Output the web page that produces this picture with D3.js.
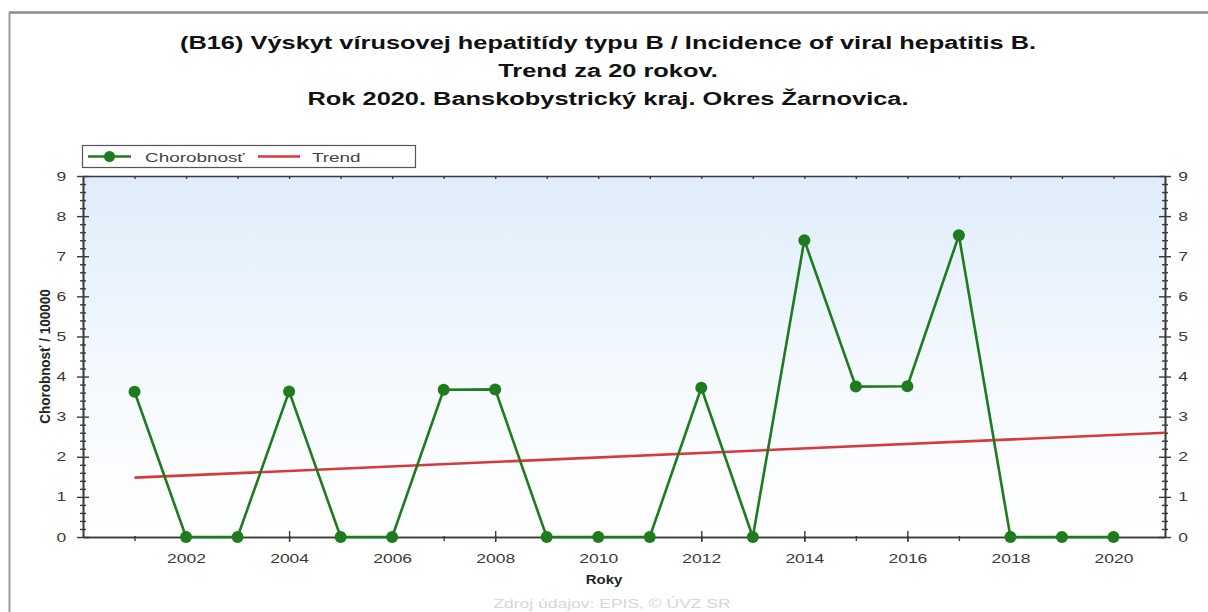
<!DOCTYPE html>
<html><head><meta charset="utf-8">
<script src="https://cdn.jsdelivr.net/npm/d3@7"></script>
<style>
html,body{margin:0;padding:0;background:#fff;}
svg{display:block;}
</style></head>
<body>
<svg id="chart" width="1208" height="612"></svg>
<script>
const titleLines = [
  "(B16) Výskyt vírusovej hepatitídy typu B / Incidence of viral hepatitis B.",
  "Trend za 20 rokov.",
  "Rok 2020. Banskobystrický kraj. Okres Žarnovica."
];
const years = [2001,2002,2003,2004,2005,2006,2007,2008,2009,2010,2011,2012,2013,2014,2015,2016,2017,2018,2019,2020];
const incidence = [3.62,0,0,3.63,0,0,3.67,3.68,0,0,0,3.72,0,7.40,3.75,3.76,7.52,0,0,0];
const trendYears = [2001, 2021];
const trendValues = [1.48, 2.60];
const xTickYears = [2002,2004,2006,2008,2010,2012,2014,2016,2018,2020];
const yTicks = [0,1,2,3,4,5,6,7,8,9];
const legendLabels = ["Chorobnosť", "Trend"];
const yLabel = "Chorobnosť / 100000";
const xLabel = "Roky";
const sourceText = "Zdroj údajov: EPIS, © ÚVZ SR";

(function(){
const svg = d3.select("#chart");
const W = 1208, H = 612;
const green = "#1e7b1e", red = "#d63a3a", axisCol = "#3a3a3a";
const font = "'Liberation Sans', Arial, sans-serif";
const SX = 1.4; // horizontal stretch of the reference's text

// outer frame
svg.append("line").attr("x1",9).attr("x2",W).attr("y1",12.5).attr("y2",12.5).attr("stroke","#8a8a8a").attr("stroke-width",2.5);
svg.append("line").attr("x1",9.5).attr("x2",9.5).attr("y1",12).attr("y2",H).attr("stroke","#9a9a9a").attr("stroke-width",2);

// title
svg.selectAll("text.title").data(titleLines).enter().append("text")
  .attr("transform",(d,i)=>`translate(608,${49+i*28}) scale(1.41,1)`)
  .attr("text-anchor","middle").attr("font-family",font).attr("font-size",18).attr("font-weight","bold")
  .attr("fill","#111").text(d=>d);

const pL = 83, pR = 1165, pT = 176, pB = 537;
const x = d3.scaleLinear().domain([2000, 2021]).range([pL, pR]);
const y = d3.scaleLinear().domain([0, 9]).range([pB, pT]);

// background gradient
const defs = svg.append("defs");
const grad = defs.append("linearGradient").attr("id","bg").attr("x1",0).attr("x2",0).attr("y1",0).attr("y2",1);
grad.append("stop").attr("offset","0%").attr("stop-color","#dfedfa");
grad.append("stop").attr("offset","60%").attr("stop-color","#f6fafe");
grad.append("stop").attr("offset","100%").attr("stop-color","#ffffff");
svg.append("rect").attr("x",pL).attr("y",pT).attr("width",pR-pL).attr("height",pB-pT).attr("fill","url(#bg)");

const allYears = d3.range(2001, 2021);
function styleAxis(g){
  g.select(".domain").attr("stroke",axisCol).attr("stroke-width",1.6);
  g.selectAll(".tick line").attr("stroke",axisCol).attr("stroke-width",1.4);
  g.selectAll(".tick text").attr("font-family",font).attr("font-size",12.5).attr("fill","#3a3a3a")
    .attr("transform",`scale(${SX},1)`);
}
const xMinor = svg.append("g").attr("transform",`translate(0,${pB})`)
  .call(d3.axisBottom(x).tickValues(allYears).tickSize(4).tickFormat("").tickSizeOuter(0));
xMinor.selectAll(".tick line").attr("y1",-1);
styleAxis(xMinor);
const xMajor = svg.append("g").attr("transform",`translate(0,${pB})`)
  .call(d3.axisBottom(x).tickValues(xTickYears).tickSize(5).tickFormat(d3.format("d")).tickSizeOuter(0).tickPadding(12));
xMajor.selectAll(".tick line").attr("y1",-6);
styleAxis(xMajor);
const xTop = svg.append("g").attr("transform",`translate(0,${pT})`)
  .call(d3.axisBottom(x).tickValues(allYears).tickSize(3).tickFormat("").tickSizeOuter(0));
styleAxis(xTop);

const yMinorVals = d3.range(0, 45).map(i=>i/5).filter(v=>Math.abs(v-Math.round(v))>1e-6);
function yAxisPair(xpos, leftSide){
  const ax = leftSide ? d3.axisLeft(y) : d3.axisRight(y);
  const gMin = svg.append("g").attr("transform",`translate(${xpos},0)`)
    .call(ax.tickValues(yMinorVals).tickSize(3).tickFormat("").tickSizeOuter(0));
  gMin.selectAll(".tick line").attr("x1", leftSide?3:-3);
  styleAxis(gMin);
  const ax2 = leftSide ? d3.axisLeft(y) : d3.axisRight(y);
  const gMaj = svg.append("g").attr("transform",`translate(${xpos},0)`)
    .call(ax2.tickValues(yTicks).tickSize(6).tickFormat(d3.format("d")).tickSizeOuter(0).tickPadding(leftSide?6:3.5));
  gMaj.selectAll(".tick line").attr("x1", leftSide?6:-6);
  styleAxis(gMaj);
}
yAxisPair(pL, true);
yAxisPair(pR, false);

svg.append("text").attr("transform",`translate(50,${(pT+pB)/2}) rotate(-90) scale(1,1.15)`)
  .attr("text-anchor","middle").attr("font-family",font).attr("font-size",13.5).attr("font-weight","bold").attr("fill","#222").text(yLabel);
svg.append("text").attr("transform",`translate(604,584) scale(1.15,1)`).attr("text-anchor","middle")
  .attr("font-family",font).attr("font-size",13).attr("font-weight","bold").attr("fill","#222").text(xLabel);
svg.append("text").attr("transform",`translate(612,608) scale(${SX},1)`).attr("text-anchor","middle")
  .attr("font-family",font).attr("font-size",12.5).attr("fill","#d6d6d6").text(sourceText);

const line = d3.line().x(d=>x(d[0])).y(d=>y(d[1]));
svg.append("path").datum(trendYears.map((d,i)=>[d, trendValues[i]]))
  .attr("d", line).attr("fill","none").attr("stroke",red).attr("stroke-width",2.6);

const pts = years.map((d,i)=>[d, incidence[i]]);
svg.append("path").datum(pts).attr("d", line).attr("fill","none").attr("stroke",green).attr("stroke-width",2.6);
svg.selectAll("circle.pt").data(pts).enter().append("circle")
  .attr("cx",d=>x(d[0])).attr("cy",d=>y(d[1])).attr("r",6).attr("fill",green);

const lg = svg.append("g");
lg.append("rect").attr("x",82.5).attr("y",145.5).attr("width",333).attr("height",22).attr("fill","#fff").attr("stroke","#555").attr("stroke-width",1.2);
lg.append("line").attr("x1",88).attr("x2",131).attr("y1",156.5).attr("y2",156.5).attr("stroke",green).attr("stroke-width",2.6);
lg.append("circle").attr("cx",109.5).attr("cy",156.5).attr("r",5.5).attr("fill",green);
lg.append("text").attr("transform",`translate(145,161.5) scale(${SX},1)`).attr("font-family",font).attr("font-size",13.5).attr("fill","#444").text(legendLabels[0]);
lg.append("line").attr("x1",258).attr("x2",300).attr("y1",156.5).attr("y2",156.5).attr("stroke",red).attr("stroke-width",2.6);
lg.append("text").attr("transform",`translate(312,161.5) scale(${SX},1)`).attr("font-family",font).attr("font-size",13.5).attr("fill","#444").text(legendLabels[1]);
})();
</script>
</body></html>
